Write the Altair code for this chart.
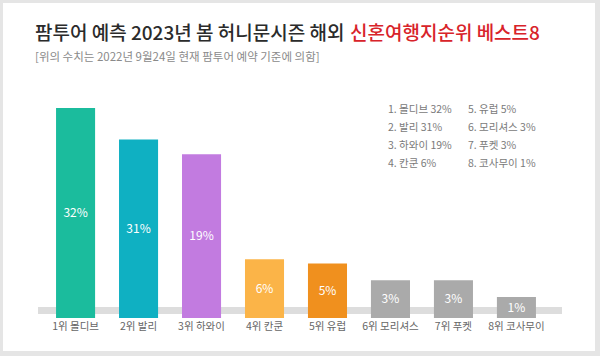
import altair as alt
import pandas as pd

# ---- data ----
names = ["몰디브", "발리", "하와이", "칸쿤", "유럽", "모리셔스", "푸켓", "코사무이"]
shares = [32, 31, 19, 6, 5, 3, 3, 1]               # printed percentages
bar_heights = [100, 85, 78, 28, 26, 18, 18, 10]     # drawn bar heights (relative, as pictured)
colors = ["#1bbc9d", "#0fb0c2", "#c27be0", "#fbb448", "#f0901e", "#aaaaaa", "#aaaaaa", "#aaaaaa"]

title_dark = "팜투어 예측 2023년 봄 허니문시즌 해외"
title_red = "신혼여행지순위 베스트8"
subtitle = "[위의 수치는 2022년 9월24일 현재 팜투어 예약 기준에 의함]"

FONT = "Noto Sans CJK KR"
W, H = 524, 210
PAD = {"left": 34, "top": 108, "right": 42, "bottom": 38}

labels = [f"{i + 1}위 {n}" for i, n in enumerate(names)]
legend_lines = [f"{i + 1}. {n} {v}%" for i, (n, v) in enumerate(zip(names, shares))]
df = pd.DataFrame({
    "label": labels,
    "share": shares,
    "h": bar_heights,
    "pct": [f"{v}%" for v in shares],
})

one = pd.DataFrame({"a": [0]})

xenc = alt.X("label:N", sort=labels,
             scale=alt.Scale(paddingInner=0.38, paddingOuter=0.35),
             axis=alt.Axis(title=None, domain=False, ticks=False, labelAngle=0,
                           labelFont=FONT, labelFontSize=10.5, labelColor="#666666",
                           labelPadding=3, zindex=1))
yscale = alt.Scale(domain=[0, 100])

card = alt.Chart(one).mark_rect(color="white").encode(
    x=alt.value(3 - PAD["left"]), x2=alt.value(595 - PAD["left"]),
    y=alt.value(3 - PAD["top"]), y2=alt.value(351 - PAD["top"]))

band = alt.Chart(one).mark_rect(color="#dddddd").encode(
    x=alt.value(4), x2=alt.value(W + 4), y=alt.value(199), y2=alt.value(206))

bars = alt.Chart(df).mark_bar().encode(
    x=xenc,
    y=alt.Y("h:Q", scale=yscale, axis=None),
    color=alt.Color("label:N", scale=alt.Scale(domain=labels, range=colors), legend=None),
)

bar_text = alt.Chart(df).transform_calculate(mid="datum.h / 2").mark_text(
    color="white", font=FONT, fontSize=12, baseline="middle").encode(
    x=alt.X("label:N", sort=labels),
    y=alt.Y("mid:Q", scale=yscale),
    text="pct:N")

t1 = alt.Chart(one).mark_text(text=title_dark, font=FONT, fontSize=19, fontWeight=500,
                              color="#2b2b2b", align="left", baseline="middle").encode(
    x=alt.value(35 - PAD["left"]), y=alt.value(34 - PAD["top"]))
t2 = alt.Chart(one).mark_text(text=title_red, font=FONT, fontSize=19, fontWeight=500,
                              color="#d8232a", align="left", baseline="middle").encode(
    x=alt.value(350 - PAD["left"]), y=alt.value(34 - PAD["top"]))
t3 = alt.Chart(one).mark_text(text=subtitle, font=FONT, fontSize=11.5,
                              color="#8a8a8a", align="left", baseline="middle").encode(
    x=alt.value(35 - PAD["left"]), y=alt.value(58 - PAD["top"]))

leg1 = alt.Chart(one).mark_text(text=legend_lines[:4], font=FONT, fontSize=10.5, lineHeight=18,
                                color="#7a7a7a", align="left", baseline="top").encode(
    x=alt.value(388 - PAD["left"]), y=alt.value(105 - PAD["top"]))
leg2 = alt.Chart(one).mark_text(text=legend_lines[4:], font=FONT, fontSize=10.5, lineHeight=18,
                                color="#7a7a7a", align="left", baseline="top").encode(
    x=alt.value(468 - PAD["left"]), y=alt.value(105 - PAD["top"]))

chart = alt.layer(card, band, bars, bar_text, t1, t2, t3, leg1, leg2).properties(
    width=W, height=H, padding=PAD,
    autosize=alt.AutoSizeParams(type="none"),
    background="#e5e5e5",
).configure_view(stroke=None)

chart.save("out.html", embed_options={"renderer": "svg", "actions": False})
